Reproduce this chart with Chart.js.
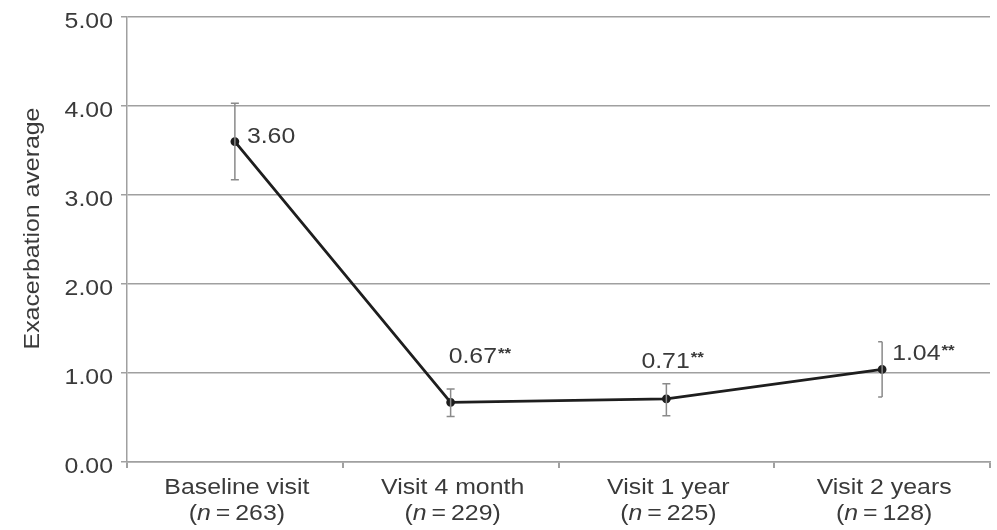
<!DOCTYPE html>
<html>
<head>
<meta charset="utf-8">
<script src="https://cdn.jsdelivr.net/npm/chart.js@4/dist/chart.umd.min.js"></script>
<style>
  html, body { margin: 0; padding: 0; background: #fff; }
  #wrap { width: 997px; height: 530px; position: relative; }
</style>
</head>
<body>
<div id="wrap"><canvas id="c"></canvas></div>
<script>
// Visits and group sizes
const visits = ["Baseline visit", "Visit 4 month", "Visit 1 year", "Visit 2 years"];
const groupSizes = [263, 229, 225, 128];

// Mean exacerbations per visit, with error bar limits
const exacerbationMean = [3.60, 0.67, 0.71, 1.04];
const errorUpper = [4.03, 0.82, 0.88, 1.35];
const errorLower = [3.17, 0.51, 0.52, 0.73];

// Significance marks next to each value
const significance = ["", "**", "**", "**"];

// Y axis ticks
const yTickMin = 0;
const yTickMax = 5;
const yTickStep = 1;
const yTitle = "Exacerbation average";

// Where each value label sits relative to its point (px): left edge, cap centre
const labelOffsetX = [12, -2, -25, 10];
const labelOffsetY = [-6, -47, -39, -17];

const FONT = "'Liberation Sans', Arial, sans-serif";
const SIZE = 22;
const STRETCH = 1.13;      // slightly wide lettering
const CAPMID = 0.358;      // cap-height centre above baseline, in em
const TEXT = "#3a3a3a";
const GRID = "#a0a0a0";

// Draw text with horizontal stretch; y is the centre of the capitals
function wideText(ctx, str, x, y, align, font, size) {
  ctx.save();
  ctx.font = font;
  ctx.textBaseline = "alphabetic";
  ctx.textAlign = "left";
  const w = ctx.measureText(str).width * STRETCH;
  let sx = x;
  if (align === "center") sx = x - w / 2;
  else if (align === "right") sx = x - w;
  ctx.translate(sx, y + CAPMID * size);
  ctx.scale(STRETCH, 1);
  ctx.fillText(str, 0, 0);
  ctx.restore();
  return w;
}
function measureWide(ctx, str, font) {
  ctx.save();
  ctx.font = font;
  const w = ctx.measureText(str).width * STRETCH;
  ctx.restore();
  return w;
}

// Vertical error bars (the last one opens to the left like a bracket)
const errorBars = {
  id: "errorBars",
  afterDatasetsDraw(chart) {
    const { ctx, scales: { x, y } } = chart;
    ctx.save();
    ctx.strokeStyle = "#8a8a8a";
    ctx.lineWidth = 1.5;
    exacerbationMean.forEach((_, i) => {
      const px = x.getPixelForValue(i);
      const top = y.getPixelForValue(errorUpper[i]);
      const bot = y.getPixelForValue(errorLower[i]);
      const capL = 4;
      const capR = i === exacerbationMean.length - 1 ? 0 : 4;
      ctx.beginPath();
      ctx.moveTo(px, top); ctx.lineTo(px, bot);
      ctx.moveTo(px - capL, top); ctx.lineTo(px + capR, top);
      ctx.moveTo(px - capL, bot); ctx.lineTo(px + capR, bot);
      ctx.stroke();
    });
    ctx.restore();
  }
};

// Value labels with raised significance stars
const valueLabels = {
  id: "valueLabels",
  afterDatasetsDraw(chart) {
    const { ctx } = chart;
    const meta = chart.getDatasetMeta(0);
    ctx.save();
    ctx.fillStyle = TEXT;
    meta.data.forEach((pt, i) => {
      const tx = pt.x + labelOffsetX[i];
      const ty = pt.y + labelOffsetY[i];
      const w = wideText(ctx, exacerbationMean[i].toFixed(2), tx, ty, "left", SIZE + "px " + FONT, SIZE);
      if (significance[i]) {
        wideText(ctx, significance[i], tx + w + 1, ty - 3, "left", "bold 15px " + FONT, 15);
      }
    });
    ctx.restore();
  }
};

// Axis texts: y tick labels, rotated y title, two-line category labels
const axisTexts = {
  id: "axisTexts",
  afterDraw(chart) {
    const { ctx, scales: { x, y } } = chart;
    const font = SIZE + "px " + FONT;
    const italic = "italic " + SIZE + "px " + FONT;
    ctx.save();
    ctx.fillStyle = TEXT;

    y.ticks.forEach((t) => {
      const py = y.getPixelForValue(t.value);
      wideText(ctx, Number(t.value).toFixed(2), y.right - 14, py + 3, "right", font, SIZE);
    });

    ctx.save();
    ctx.translate(31, (y.top + y.bottom) / 2 - 11);
    ctx.rotate(-Math.PI / 2);
    wideText(ctx, yTitle, 0, 0, "center", font, SIZE);
    ctx.restore();

    visits.forEach((v, i) => {
      const cx = x.getPixelForValue(i);
      wideText(ctx, v, cx + 2, x.top + 24, "center", font, SIZE);
      const a = "(", b = "n", c = "\u2009=\u2009" + groupSizes[i] + ")";
      const wa = measureWide(ctx, a, font);
      const wb = measureWide(ctx, b, italic);
      const wc = measureWide(ctx, c, font);
      const sx = cx + 2 - (wa + wb + wc) / 2;
      wideText(ctx, a, sx, x.top + 50, "left", font, SIZE);
      wideText(ctx, b, sx + wa, x.top + 50, "left", italic, SIZE);
      wideText(ctx, c, sx + wa + wb, x.top + 50, "left", font, SIZE);
    });
    ctx.restore();
  }
};

new Chart(document.getElementById("c"), {
  type: "line",
  data: {
    labels: visits,
    datasets: [{
      data: exacerbationMean,
      borderColor: "#1e1e1e",
      borderWidth: 2.8,
      backgroundColor: "#1e1e1e",
      pointRadius: 3,
      pointHoverRadius: 3,
      tension: 0,
      fill: false
    }]
  },
  options: {
    responsive: true,
    maintainAspectRatio: false,
    animation: false,
    layout: { padding: { top: 17, right: 7, left: 0, bottom: 0 } },
    plugins: {
      legend: { display: false },
      tooltip: { enabled: false }
    },
    scales: {
      x: {
        offset: true,
        grid: {
          offset: true,
          drawOnChartArea: true,
          color: (ctx) => ctx.index === visits.length ? GRID : "rgba(0,0,0,0)",
          tickColor: GRID,
          tickLength: 6,
          lineWidth: 2
        },
        border: { color: GRID, width: 1.5 },
        ticks: { display: true, color: "rgba(0,0,0,0)", font: { size: 1 } },
        afterFit(scale) { scale.height = 68; }
      },
      y: {
        min: yTickMin,
        max: yTickMax,
        grid: {
          color: GRID,
          lineWidth: 1.5,
          tickColor: GRID,
          tickLength: 6
        },
        border: { color: GRID, width: 1.5 },
        ticks: {
          stepSize: yTickStep,
          color: "rgba(0,0,0,0)",
          font: { size: 1 }
        },
        afterFit(scale) { scale.width = 127; }
      }
    }
  },
  plugins: [errorBars, valueLabels, axisTexts]
});
</script>
</body>
</html>
